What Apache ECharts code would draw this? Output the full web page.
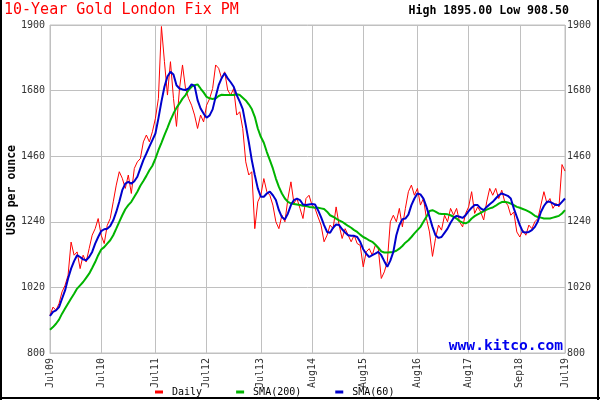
<!DOCTYPE html>
<html><head><meta charset="utf-8">
<script src="https://cdn.jsdelivr.net/npm/echarts@6/dist/echarts.min.js"></script>
<style>html,body{margin:0;padding:0;background:#fff}#c{width:600px;height:400px}</style>
</head><body><div id="c"></div>
<script>
const daily = [926,954,943,966,1005,1027,1061,1172,1128,1139,1083,1128,1105,1150,1195,1217,1251,1195,1167,1228,
1251,1307,1363,1408,1386,1352,1397,1335,1419,1441,1452,1508,1531,1508,1542,1587,1654,1895,1777,1665,
1777,1654,1560,1687,1766,1687,1654,1631,1598,1553,1598,1575,1631,1653,1687,1766,1755,1720,1743,1682,
1665,1687,1598,1609,1553,1441,1397,1408,1217,1307,1329,1385,1341,1329,1296,1240,1217,1262,1240,1318,
1374,1302,1318,1285,1251,1318,1329,1296,1285,1256,1229,1173,1195,1229,1217,1290,1229,1184,1217,1195,
1173,1195,1167,1161,1089,1139,1150,1128,1161,1150,1050,1072,1106,1240,1262,1240,1285,1223,1285,1341,
1363,1329,1352,1296,1318,1251,1206,1124,1184,1229,1212,1262,1240,1285,1262,1285,1240,1223,1268,1290,
1341,1268,1290,1273,1246,1307,1352,1329,1352,1318,1346,1307,1296,1262,1273,1206,1189,1212,1195,1229,
1217,1240,1251,1296,1341,1302,1318,1285,1302,1290,1432,1410];
const sma200 = [878,887,898,912,932,949,966,983,999,1016,1027,1038,1052,1066,1085,1105,1128,1147,1155,1167,
1178,1195,1217,1240,1262,1282,1296,1307,1324,1341,1361,1377,1394,1413,1428,1452,1480,1505,1531,1555,
1581,1603,1622,1637,1653,1665,1682,1693,1698,1701,1687,1674,1659,1654,1652,1654,1662,1666,1665,1665,
1665,1665,1668,1665,1656,1647,1634,1618,1592,1553,1525,1505,1474,1447,1419,1385,1357,1335,1318,1307,
1302,1300,1298,1296,1294,1293,1290,1289,1287,1287,1285,1283,1274,1262,1257,1251,1245,1240,1233,1226,
1220,1212,1206,1197,1189,1184,1178,1173,1164,1153,1141,1137,1137,1138,1139,1143,1150,1159,1170,1178,
1189,1201,1212,1223,1240,1257,1276,1279,1274,1268,1266,1266,1265,1262,1257,1251,1242,1237,1235,1240,
1251,1259,1265,1270,1276,1281,1285,1288,1294,1301,1306,1307,1305,1301,1296,1290,1287,1283,1279,1274,
1268,1260,1256,1254,1251,1251,1251,1254,1257,1260,1268,1279];
const sma60 = [924,938,943,954,982,1010,1050,1083,1108,1128,1122,1114,1111,1122,1139,1167,1189,1209,1215,1217,
1226,1245,1273,1307,1346,1368,1374,1368,1376,1391,1419,1447,1469,1492,1514,1536,1587,1643,1693,1727,
1743,1734,1698,1687,1684,1682,1687,1701,1696,1648,1620,1603,1589,1597,1617,1659,1698,1722,1738,1721,
1708,1693,1665,1643,1618,1564,1508,1447,1397,1352,1324,1324,1335,1341,1329,1313,1279,1256,1248,1268,
1296,1313,1318,1313,1298,1296,1298,1300,1298,1279,1256,1229,1206,1203,1220,1231,1229,1215,1204,1195,
1193,1193,1189,1173,1148,1133,1122,1128,1133,1139,1128,1108,1089,1110,1139,1195,1229,1249,1251,1264,
1296,1318,1335,1332,1318,1290,1257,1223,1195,1186,1189,1203,1217,1237,1253,1260,1257,1253,1262,1276,
1287,1296,1296,1285,1279,1290,1299,1307,1318,1329,1335,1331,1327,1318,1285,1257,1229,1206,1204,1206,
1212,1223,1242,1273,1293,1307,1307,1302,1296,1296,1307,1318];
const tickLabels = ['Jul09','Jul10','Jul11','Jul12','Jul13','Aug14','Aug15','Aug16','Aug17','Sep18','Jul19'];
const tickIndex = [0,17,35,52,70,87,104,122,139,156,171];
const yTicks = [800,1020,1240,1460,1680,1900];
const seriesNames = ['Daily','SMA(200)','SMA(60)'];

const categories = daily.map((_, i) => i);
const labelAt = {};
tickIndex.forEach((k, j) => { labelAt[k] = tickLabels[j]; });
const mono = 'DejaVu Sans Mono';
const gridColor = '#c0c0c0';

const chart = echarts.init(document.getElementById('c'), null, {renderer: 'canvas'});
const yLabel = {customValues: yTicks, formatter: (v) => String(v), fontFamily: mono, fontSize: 10, color: '#333'};
chart.setOption({
  animation: false,
  grid: {left: 50, right: 35, top: 25, bottom: 47, show: true, borderColor: gridColor, borderWidth: 1},
  xAxis: {
    type: 'category', data: categories, boundaryGap: false,
    axisLine: {lineStyle: {color: gridColor}}, axisTick: {show: false},
    axisLabel: {interval: (i) => (i in labelAt), formatter: (v, i) => labelAt[i] || '', rotate: 90, margin: 5,
      fontFamily: mono, fontSize: 10, color: '#333', hideOverlap: false},
    splitLine: {show: true, interval: (i) => (i in labelAt), lineStyle: {color: gridColor}}
  },
  yAxis: [
    {type: 'value', min: 800, max: 1900, position: 'left', axisLine: {show: false},
     axisTick: {show: false, customValues: yTicks}, axisLabel: Object.assign({margin: 5}, yLabel),
     splitLine: {show: true, lineStyle: {color: gridColor}}},
    {type: 'value', min: 800, max: 1900, position: 'right', axisLine: {show: false},
     axisTick: {show: false, customValues: yTicks}, axisLabel: Object.assign({margin: 2}, yLabel),
     splitLine: {show: false}}
  ],
  legend: {
    left: 155, top: 387, padding: 0, itemGap: 34, itemWidth: 8, itemHeight: 3, icon: 'rect',
    textStyle: {fontFamily: mono, fontSize: 10, color: '#000', padding: [0, 0, 0, 4]},
    data: seriesNames
  },
  series: [
    {name: seriesNames[0], type: 'line', data: daily, symbol: 'none', lineStyle: {color: '#ff0000', width: 1}, itemStyle: {color: '#ff0000'}, z: 2},
    {name: seriesNames[1], type: 'line', data: sma200, symbol: 'none', lineStyle: {color: '#00b400', width: 2}, itemStyle: {color: '#00b400'}, z: 3},
    {name: seriesNames[2], type: 'line', data: sma60, symbol: 'none', lineStyle: {color: '#0000cc', width: 2}, itemStyle: {color: '#0000cc'}, z: 4}
  ],
  graphic: [
    {type: 'text', left: 4, top: 3, style: {text: '10-Year Gold London Fix PM', fill: '#ff0000', fontFamily: mono, fontSize: 15}},
    {type: 'text', right: 31, top: 5, style: {text: 'High 1895.00 Low 908.50', fill: '#000', fontFamily: mono, fontSize: 11.6, fontWeight: 'bold'}},
    {type: 'text', x: 12, y: 190, rotation: Math.PI / 2, style: {text: 'USD per ounce', fill: '#000', fontFamily: mono, fontSize: 11.5, fontWeight: 'bold', align: 'center', verticalAlign: 'middle'}},
    {type: 'text', right: 37, top: 339, z: 10, style: {text: 'www.kitco.com', fill: '#0000ee', fontFamily: mono, fontSize: 14.6, fontWeight: 'bold'}},
    {type: 'line', shape: {x1: 1, y1: 0, x2: 1, y2: 400}, style: {stroke: '#000', lineWidth: 2}},
    {type: 'line', shape: {x1: 598, y1: 0, x2: 598, y2: 400}, style: {stroke: '#000', lineWidth: 2}},
    {type: 'line', shape: {x1: 0, y1: 398, x2: 600, y2: 398}, style: {stroke: '#000', lineWidth: 2}}
  ]
});
</script></body></html>
